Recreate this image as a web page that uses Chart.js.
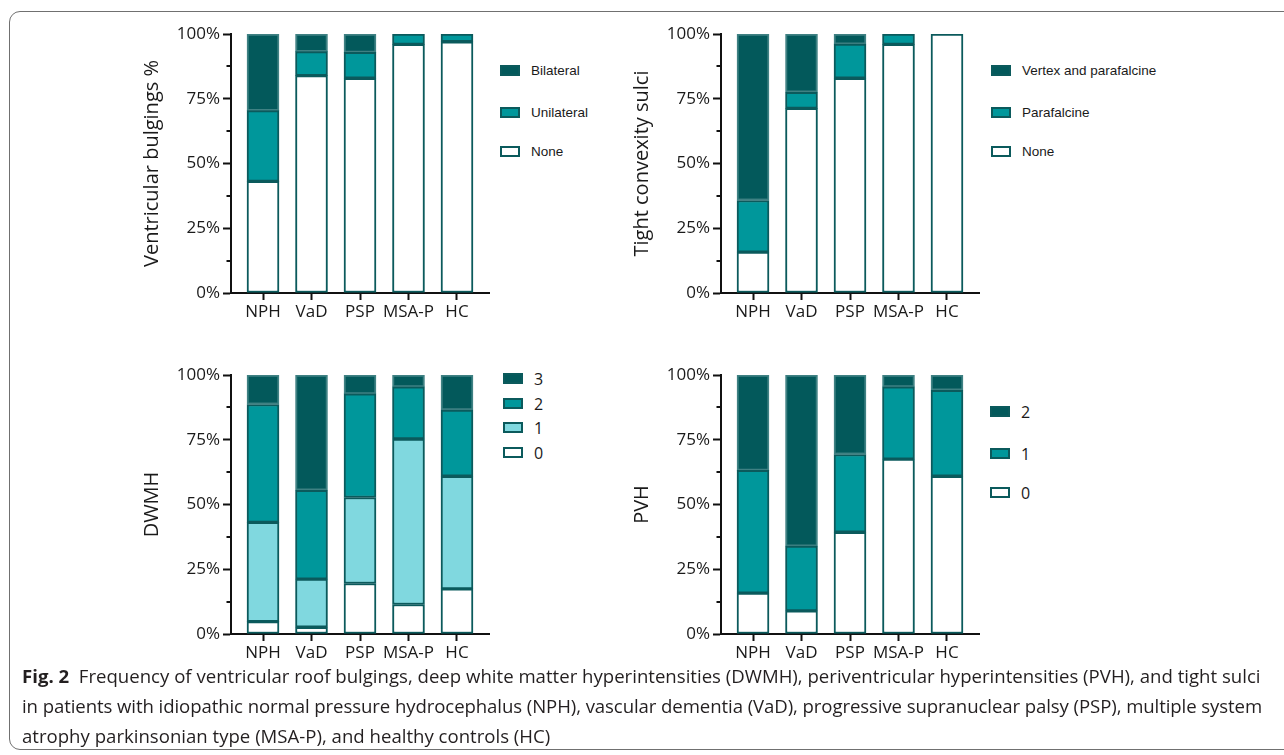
<!DOCTYPE html>
<html>
<head>
<meta charset="utf-8">
<script src="https://cdn.jsdelivr.net/npm/chart.js@4.4.1/dist/chart.umd.min.js"></script>
<style>
  html, body { margin: 0; padding: 0; background: #fff; }
  body { width: 1284px; height: 755px; position: relative; overflow: hidden; }
  .frame { position: absolute; left: 9px; top: 11px; width: 1400px; height: 739px;
           border: 1.5px solid #707070; border-radius: 11px; box-sizing: border-box; }
  .panel { position: absolute; width: 370px; height: 320px; }
  .legend { position: absolute; font-family: "Liberation Sans", Arial, sans-serif; font-size: 13.5px; color: #1a1a1a; }
  .legend .item { position: absolute; left: 0; white-space: nowrap; height: 20px; }
  .legend .sw { position: absolute; left: 0; top: 4px; width: 20px; height: 11px; box-sizing: border-box; border: 2px solid #0b5a5c; }
  .legend .lbl { position: absolute; left: 31px; top: 0; line-height: 20px; }
  .legend.num { font-family: "Open Sans", sans-serif; font-size: 16px; }
  .caption { position: absolute; left: 22px; top: 661px; font-family: "Open Sans", sans-serif; font-size: 18.6px;
             line-height: 30px; color: #231f20; white-space: nowrap; }
  .caption b { font-weight: 700; }
  .caption .l2 { letter-spacing: -0.09px; }
</style>
</head>
<body>
<div class="frame"></div>

<div class="panel" style="left:130px;top:20px"><canvas id="c1" width="370" height="320"></canvas></div>
<div class="panel" style="left:620px;top:20px"><canvas id="c2" width="370" height="320"></canvas></div>
<div class="panel" style="left:130px;top:361px"><canvas id="c3" width="370" height="320"></canvas></div>
<div class="panel" style="left:620px;top:361px"><canvas id="c4" width="370" height="320"></canvas></div>

<div id="lg1" class="legend" style="left:500px;top:0px"></div>
<div id="lg2" class="legend" style="left:991px;top:0px"></div>
<div id="lg3" class="legend num" style="left:503px;top:0px"></div>
<div id="lg4" class="legend num" style="left:990px;top:0px"></div>

<div class="caption"><b>Fig. 2</b>&nbsp; Frequency of ventricular roof bulgings, deep white matter hyperintensities (DWMH), periventricular hyperintensities (PVH), and tight sulci<br><span class="l2">in patients with idiopathic normal pressure hydrocephalus (NPH), vascular dementia (VaD), progressive supranuclear palsy (PSP), multiple system</span><br>atrophy parkinsonian type (MSA-P), and healthy controls (HC)</div>

<script>
// ---------- data (percent of patients) ----------
const categories = ['NPH', 'VaD', 'PSP', 'MSA-P', 'HC'];
const yTickValues = [0, 25, 50, 75, 100];

// Ventricular bulgings
const bulgingNone       = [43.1, 83.9, 82.9, 96.0, 97.0];
const bulgingUnilateral = [27.3,  9.3, 10.0,  4.0,  3.0];
const bulgingBilateral  = [29.6,  6.8,  7.1,  0.0,  0.0];

// Tight convexity sulci
const sulciNone        = [15.8, 71.3, 82.9, 96.0, 100.0];
const sulciParafalcine = [19.9,  6.2, 13.2,  4.0,   0.0];
const sulciVertex      = [64.3, 22.5,  3.9,  0.0,   0.0];

// DWMH grades
const dwmh0 = [ 4.8,  2.6, 19.5, 11.4, 17.4];
const dwmh1 = [38.3, 18.6, 33.2, 63.9, 43.5];
const dwmh2 = [45.5, 34.3, 40.0, 20.1, 25.6];
const dwmh3 = [11.4, 44.5,  7.3,  4.6, 13.5];

// PVH grades
const pvh0 = [15.8,  8.9, 39.3, 67.5, 60.9];
const pvh1 = [47.4, 25.0, 30.0, 27.9, 33.2];
const pvh2 = [36.8, 66.1, 30.7,  4.6,  5.9];

// ---------- styles ----------
const C_DARK  = '#03595b';
const C_MID   = '#00979b';
const C_LIGHT = '#80d8df';
const C_WHITE = '#ffffff';
const C_EDGE  = '#0b5a5c';
const TXT = '#1a1a1a';
const FONT = "'Open Sans', sans-serif";

function ds(label, data, color) {
  return {
    label, data,
    backgroundColor: color,
    borderColor: color === C_DARK ? '#3f8183' : C_EDGE,
    borderWidth: 2,
    borderSkipped: false,
    barThickness: 32
  };
}

const minorTicks = {
  id: 'minorTicks',
  afterDraw(chart) {
    const y = chart.scales.y, ctx = chart.ctx;
    ctx.save();
    ctx.strokeStyle = '#111';
    ctx.lineWidth = 2;
    [12.5, 37.5, 62.5, 87.5].forEach(v => {
      const py = Math.round(y.getPixelForValue(v));
      ctx.beginPath();
      ctx.moveTo(y.right - 4.5, py);
      ctx.lineTo(y.right, py);
      ctx.stroke();
    });
    ctx.restore();
  }
};

function makeChart(id, title, datasets) {
  return new Chart(document.getElementById(id), {
    type: 'bar',
    data: { labels: categories.map((_, i) => i), datasets },
    plugins: [minorTicks],
    options: {
      responsive: false,
      animation: false,
      events: [],
      layout: { padding: { top: 14, right: 11, left: 0, bottom: 0 } },
      plugins: { legend: { display: false }, tooltip: { enabled: false } },
      scales: {
        x: {
          type: 'linear', stacked: true, min: -0.66, max: 4.66, offset: false, bounds: 'data',
          afterBuildTicks: s => { s.ticks = categories.map((_, i) => ({ value: i })); },
          afterFit: s => { s.height = 47; },
          grid: { offset: false, drawOnChartArea: false, drawTicks: true, tickLength: 7, tickWidth: 2, tickColor: '#111' },
          border: { display: true, color: '#111', width: 2 },
          ticks: { color: TXT, font: { family: FONT, size: 17 }, padding: 2, maxRotation: 0, autoSkip: false,
                   callback: v => categories[v] }
        },
        y: {
          stacked: true, min: 0, max: 100,
          afterBuildTicks: s => { s.ticks = yTickValues.map(v => ({ value: v })); },
          afterFit: s => { s.width = 101; },
          grid: { drawOnChartArea: false, drawTicks: true, tickLength: 8, tickWidth: 2, tickColor: '#111' },
          border: { display: true, color: '#111', width: 2 },
          ticks: { color: TXT, font: { family: FONT, size: 17 }, padding: 3, callback: v => v + '%' },
          title: { display: true, text: title, color: TXT, font: { family: FONT, size: 20 }, padding: { top: 10, bottom: 0 } }
        }
      }
    }
  });
}

makeChart('c1', 'Ventricular bulgings %', [
  ds('None', bulgingNone, C_WHITE), ds('Unilateral', bulgingUnilateral, C_MID), ds('Bilateral', bulgingBilateral, C_DARK)
]);
makeChart('c2', 'Tight convexity sulci', [
  ds('None', sulciNone, C_WHITE), ds('Parafalcine', sulciParafalcine, C_MID), ds('Vertex and parafalcine', sulciVertex, C_DARK)
]);
makeChart('c3', 'DWMH', [
  ds('0', dwmh0, C_WHITE), ds('1', dwmh1, C_LIGHT), ds('2', dwmh2, C_MID), ds('3', dwmh3, C_DARK)
]);
makeChart('c4', 'PVH', [
  ds('0', pvh0, C_WHITE), ds('1', pvh1, C_MID), ds('2', pvh2, C_DARK)
]);

// ---------- HTML legends ----------
function legend(id, items, centers) {
  const el = document.getElementById(id);
  items.forEach((it, k) => {
    const d = document.createElement('div');
    d.className = 'item';
    d.style.top = (centers[k] - 10) + 'px';
    d.innerHTML = '<div class="sw" style="background:' + it[1] + ';border-color:' + C_EDGE + '"></div><div class="lbl"></div>';
    d.querySelector('.lbl').textContent = it[0];
    el.appendChild(d);
  });
}
legend('lg1', [['Bilateral', C_DARK], ['Unilateral', C_MID], ['None', C_WHITE]], [70.8, 113, 152]);
legend('lg2', [['Vertex and parafalcine', C_DARK], ['Parafalcine', C_MID], ['None', C_WHITE]], [70.8, 113, 152]);
legend('lg3', [['3', C_DARK], ['2', C_MID], ['1', C_LIGHT], ['0', C_WHITE]], [378.7, 403.7, 428.3, 453]);
legend('lg4', [['2', C_DARK], ['1', C_MID], ['0', C_WHITE]], [411.5, 454, 493]);
</script>
</body>
</html>
